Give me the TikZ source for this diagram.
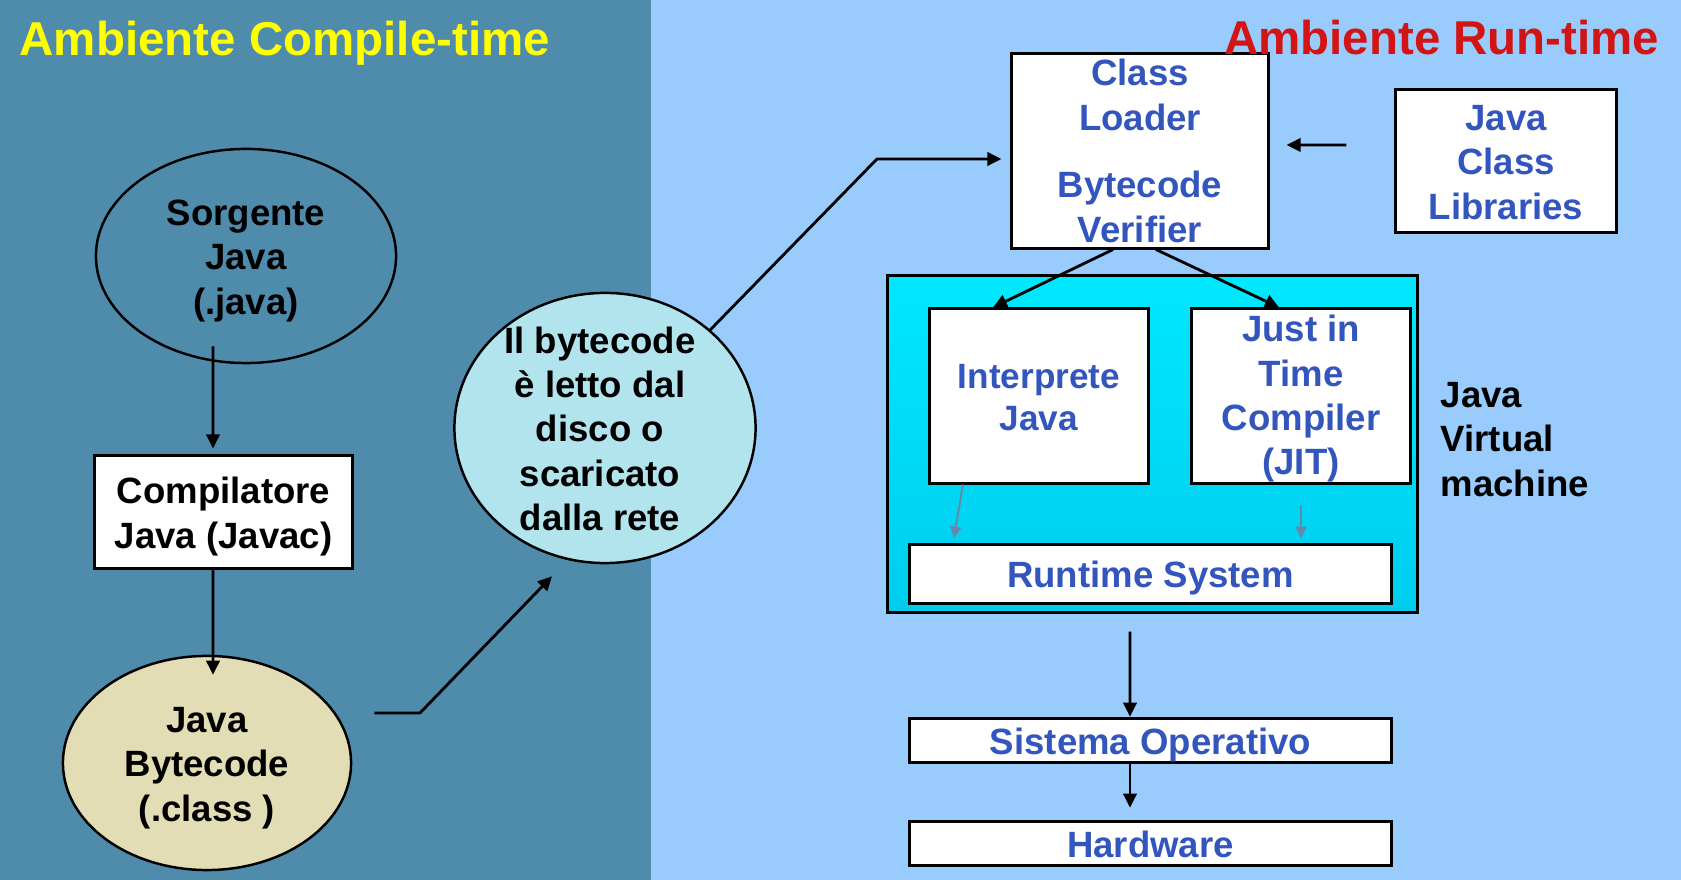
\documentclass[tikz,border=0pt]{standalone}
\usepackage{fontspec}
\setmainfont{Liberation Sans}
\usetikzlibrary{shapes.geometric,arrows.meta}

\definecolor{compbg}{RGB}{79,139,171}
\definecolor{runbg}{RGB}{153,203,253}
\definecolor{titleyellow}{RGB}{255,255,0}
\definecolor{titlered}{RGB}{210,20,20}
\definecolor{vmblue}{RGB}{50,85,190}
\definecolor{vmcyanA}{RGB}{0,232,255}
\definecolor{vmcyanB}{RGB}{0,205,238}
\definecolor{beige}{RGB}{226,221,180}
\definecolor{diskcyan}{RGB}{178,228,238}
\definecolor{thinarrow}{RGB}{100,135,170}

\newcommand{\slidetop}{\rule{0pt}{0.99em}}%first line as tall as a slide line
\newcommand{\slidebot}{\rule[-0.23em]{0pt}{0pt}}%last line as deep as a slide line

\begin{document}
\begin{tikzpicture}[x=0.01cm,y=-0.01cm,
	txt/.style={font=\bfseries\fontsize{10.4pt}{12.6pt}\selectfont,align=center,inner sep=0pt},
	bigtitle/.style={font=\bfseries\fontsize{13.5pt}{16pt}\selectfont,inner sep=0pt,anchor=base west},
	whitebox/.style={txt,draw=black,line width=0.85pt,fill=white,text=vmblue},
	blob/.style={txt,ellipse,draw=black,line width=0.7pt},
	arr/.style={line width=0.8pt,-{Triangle[length=4pt,width=3.8pt]}},
	greyarr/.style={line width=0.55pt,draw=thinarrow,-{Triangle[length=3.4pt,width=3.1pt]}}]
\useasboundingbox (0,0) rectangle (1681,880);
\fill[compbg] (0,0) rectangle (651,880);%compile side
\fill[runbg] (651,0) rectangle (1681,880);%run side

\node[bigtitle,text=titleyellow] (ctitle) at (19,56) {Ambiente Compile-time};

\node[blob,minimum width=3.0cm,minimum height=2.14cm] (sorg) at (246,256) {\slidetop Sorgente\\Java\\(.java)\slidebot};
\node[txt,draw=black,line width=0.85pt,fill=white,minimum width=2.57cm,minimum height=1.12cm] (comp) at (223.5,512) {\slidetop Compilatore\\Java (Javac)\slidebot};
\node[blob,fill=beige,minimum width=2.88cm,minimum height=2.14cm] (bc) at (207,763) {\slidetop Java\\Bytecode\\(.class )\slidebot};
\node[blob,fill=diskcyan,minimum width=3.01cm,minimum height=2.70cm] (disk) at (605,428) {};
\node[txt] (disktxt) at ([xshift=-0.05cm]disk.center) {\slidetop Il bytecode\\è letto dal\\disco o\\scaricato\\dalla rete\slidebot};

\node[whitebox,minimum width=2.56cm,minimum height=1.94cm] (loader) at (1140,151) {Class\\Loader\\[6.6pt]Bytecode\\Verifier};
\node[whitebox,minimum width=2.20cm,minimum height=1.42cm] (lib) at (1506,161) {\slidetop Java\\Class\\Libraries\slidebot};

\node[draw=black,line width=0.85pt,top color=vmcyanA,bottom color=vmcyanB,minimum width=5.29cm,minimum height=3.36cm,inner sep=0pt] (jvm) at (1152.5,444) {};%virtual machine
\node[whitebox,font=\bfseries\fontsize{10pt}{11.95pt}\selectfont,minimum width=2.18cm,minimum height=1.74cm] (interp) at (1039,396) {\slidetop Interprete\\Java\slidebot};
\node[whitebox,minimum width=2.18cm,minimum height=1.74cm] (jit) at (1301,396) {\rule{0pt}{0.9em}Just in\\Time\\Compiler\\(JIT)\slidebot};
\node[whitebox,minimum width=4.81cm,minimum height=0.58cm] (rt) at (1150.5,574) {\slidetop Runtime System\slidebot};
\node[txt,align=left,anchor=west] (jvmlabel) at (1440,438) {\slidetop Java\\Virtual\\machine\slidebot};

\node[whitebox,minimum width=4.81cm,minimum height=0.43cm] (sys) at (1150.5,740.5) {\slidetop Sistema Operativo\slidebot};
\node[whitebox,minimum width=4.81cm,minimum height=0.43cm] (hw) at (1150.5,843.5) {\slidetop Hardware\slidebot};

\node[bigtitle,anchor=base east,text=titlered] (rtitle) at (1660,55) {Ambiente Run-time};

\coordinate (bend1) at (420,713);
\coordinate (bend2) at (877,159);

\draw[arr] ([xshift=-0.33cm,yshift=0.18cm]sorg.south) -- ([xshift=-0.105cm,yshift=0.06cm]comp.north);
\draw[arr] ([xshift=-0.105cm]comp.south) -- ([xshift=0.06cm,yshift=-0.2cm]bc.north);
\draw[arr] ([xshift=0.22cm,yshift=0.5cm]bc.east) -- (bend1) -- ([xshift=-0.53cm,yshift=-0.12cm]disk.south);
\draw[arr,shorten >=0.09cm] (disk.43) -- (bend2) -- (bend2 -| loader.west);
\draw[arr,shorten <=0.48cm,shorten >=0.17cm] ([yshift=0.16cm]lib.west) -- ([yshift=0.06cm]loader.east);
\draw[arr] ([xshift=-0.27cm]loader.south) -- ([xshift=-0.46cm]interp.north);
\draw[arr] ([xshift=0.16cm]loader.south) -- ([xshift=-0.22cm]jit.north);
\draw[greyarr] ([xshift=-0.76cm]interp.south) -- ([xshift=-1.965cm,yshift=0.05cm]rt.north);
\draw[greyarr,shorten <=0.2cm,shorten >=0.05cm] (jit.south) -- (jit.south |- rt.north);
\draw[arr] ([xshift=-0.225cm,yshift=-0.18cm]jvm.south) -- ([xshift=-0.205cm]sys.north);
\draw[arr] ([xshift=-0.205cm]sys.south) -- ([xshift=-0.205cm,yshift=0.12cm]hw.north);
\end{tikzpicture}
\end{document}
